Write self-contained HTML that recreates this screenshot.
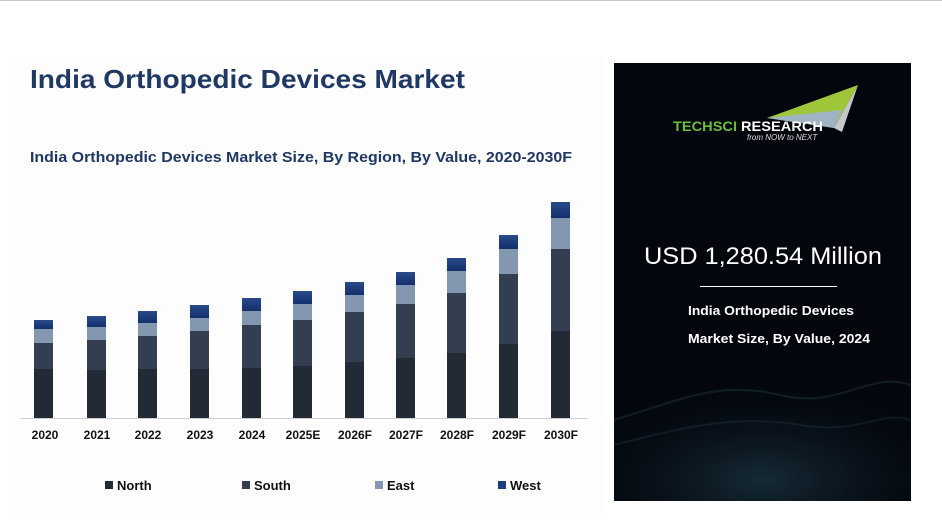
<!DOCTYPE html>
<html><head><meta charset="utf-8"><style>
html,body{margin:0;padding:0;background:#fff;}
svg{display:block;font-family:"Liberation Sans",sans-serif;}
</style></head><body>
<svg width="942" height="528" viewBox="0 0 942 528" xmlns="http://www.w3.org/2000/svg">
<defs>
<linearGradient id="wg" x1="0" y1="0" x2="0" y2="1"><stop offset="0" stop-color="#2b4a8a"/><stop offset="1" stop-color="#12306b"/></linearGradient>
<radialGradient id="wave" cx="0.5" cy="0.85" r="0.7"><stop offset="0" stop-color="#1d3a45" stop-opacity="0.7"/><stop offset="1" stop-color="#0a1420" stop-opacity="0"/></radialGradient>
</defs>
<rect width="942" height="528" fill="#fff"/>
<line x1="0" y1="0.5" x2="942" y2="0.5" stroke="#c8c8c8"/>
<rect x="15" y="57" width="590" height="460" fill="#fdfdfd"/>
<text x="30" y="88" font-size="26" font-weight="bold" fill="#1f3864" textLength="435" lengthAdjust="spacingAndGlyphs">India Orthopedic Devices Market</text>
<text x="30" y="162" font-size="15" font-weight="bold" fill="#1f3864" textLength="542" lengthAdjust="spacingAndGlyphs">India Orthopedic Devices Market Size, By Region, By Value, 2020-2030F</text>
<line x1="20" y1="418.5" x2="588" y2="418.5" stroke="#d0d0d0"/>
<g font-size="12" font-weight="bold" fill="#111" text-anchor="middle">
<text x="45" y="439">2020</text><text x="97" y="439">2021</text><text x="148" y="439">2022</text><text x="200" y="439">2023</text><text x="252" y="439">2024</text><text x="303" y="439">2025E</text><text x="355" y="439">2026F</text><text x="406" y="439">2027F</text><text x="457" y="439">2028F</text><text x="509" y="439">2029F</text><text x="561" y="439">2030F</text>
</g>
<g font-size="13" font-weight="bold" fill="#111">
<rect x="105" y="481" width="8" height="8" fill="#222a35"/><text x="117" y="490">North</text>
<rect x="242" y="481" width="8" height="8" fill="#333f50"/><text x="254" y="490">South</text>
<rect x="375" y="481" width="8" height="8" fill="#8497b0"/><text x="387" y="490">East</text>
<rect x="498" y="481" width="8" height="8" fill="#1f3c7e"/><text x="510" y="490">West</text>
</g>
<rect x="614" y="63" width="297" height="438" fill="#03060d"/>
<rect x="614" y="360" width="297" height="141" fill="url(#wave)"/>
<path d="M614 420 C 680 400, 720 380, 780 395 S 870 370, 911 385" stroke="#2a4a50" stroke-width="2" fill="none" opacity="0.35"/>
<path d="M614 445 C 690 425, 740 415, 800 425 S 880 410, 911 420" stroke="#213c44" stroke-width="2" fill="none" opacity="0.35"/>
<polygon points="767,118 858,85 834,128" fill="#9fc63b"/>
<polygon points="767,118 842,110 834,128" fill="#9fb3c4"/>
<polygon points="834,128 858,85 842,132" fill="#c5c9cc"/>
<text x="673" y="131" font-size="14" font-weight="bold" fill="#6abf3a" textLength="64" lengthAdjust="spacingAndGlyphs">TECHSCI</text>
<text x="741" y="131" font-size="14" font-weight="bold" fill="#fff" textLength="82" lengthAdjust="spacingAndGlyphs">RESEARCH</text>
<text x="747" y="140" font-size="8" font-style="italic" fill="#ddd">from NOW to NEXT</text>
<text x="763" y="264" font-size="24" fill="#fff" text-anchor="middle" textLength="238" lengthAdjust="spacingAndGlyphs">USD 1,280.54 Million</text>
<line x1="700" y1="286.5" x2="837" y2="286.5" stroke="#fff"/>
<text x="688" y="315" font-size="13" font-weight="bold" fill="#fff" textLength="166" lengthAdjust="spacingAndGlyphs">India Orthopedic Devices</text>
<text x="688" y="343" font-size="13" font-weight="bold" fill="#fff" textLength="182" lengthAdjust="spacingAndGlyphs">Market Size, By Value, 2024</text>
<g>
<rect x="34" y="369" width="19" height="49" fill="#222a35"/><rect x="34" y="343" width="19" height="26" fill="#333f50"/><rect x="34" y="329" width="19" height="14" fill="#8497b0"/><rect x="34" y="320" width="19" height="9" fill="url(#wg)"/>
<rect x="87" y="370" width="19" height="48" fill="#222a35"/><rect x="87" y="340" width="19" height="30" fill="#333f50"/><rect x="87" y="327" width="19" height="13" fill="#8497b0"/><rect x="87" y="316" width="19" height="11" fill="url(#wg)"/>
<rect x="138" y="369" width="19" height="49" fill="#222a35"/><rect x="138" y="336" width="19" height="33" fill="#333f50"/><rect x="138" y="323" width="19" height="13" fill="#8497b0"/><rect x="138" y="311" width="19" height="12" fill="url(#wg)"/>
<rect x="190" y="369" width="19" height="49" fill="#222a35"/><rect x="190" y="331" width="19" height="38" fill="#333f50"/><rect x="190" y="318" width="19" height="13" fill="#8497b0"/><rect x="190" y="305" width="19" height="13" fill="url(#wg)"/>
<rect x="242" y="368" width="19" height="50" fill="#222a35"/><rect x="242" y="325" width="19" height="43" fill="#333f50"/><rect x="242" y="311" width="19" height="14" fill="#8497b0"/><rect x="242" y="298" width="19" height="13" fill="url(#wg)"/>
<rect x="293" y="366" width="19" height="52" fill="#222a35"/><rect x="293" y="320" width="19" height="46" fill="#333f50"/><rect x="293" y="304" width="19" height="16" fill="#8497b0"/><rect x="293" y="291" width="19" height="13" fill="url(#wg)"/>
<rect x="345" y="362" width="19" height="56" fill="#222a35"/><rect x="345" y="312" width="19" height="50" fill="#333f50"/><rect x="345" y="295" width="19" height="17" fill="#8497b0"/><rect x="345" y="282" width="19" height="13" fill="url(#wg)"/>
<rect x="396" y="358" width="19" height="60" fill="#222a35"/><rect x="396" y="304" width="19" height="54" fill="#333f50"/><rect x="396" y="285" width="19" height="19" fill="#8497b0"/><rect x="396" y="272" width="19" height="13" fill="url(#wg)"/>
<rect x="447" y="353" width="19" height="65" fill="#222a35"/><rect x="447" y="293" width="19" height="60" fill="#333f50"/><rect x="447" y="271" width="19" height="22" fill="#8497b0"/><rect x="447" y="258" width="19" height="13" fill="url(#wg)"/>
<rect x="499" y="344" width="19" height="74" fill="#222a35"/><rect x="499" y="274" width="19" height="70" fill="#333f50"/><rect x="499" y="249" width="19" height="25" fill="#8497b0"/><rect x="499" y="235" width="19" height="14" fill="url(#wg)"/>
<rect x="551" y="331" width="19" height="87" fill="#222a35"/><rect x="551" y="249" width="19" height="82" fill="#333f50"/><rect x="551" y="218" width="19" height="31" fill="#8497b0"/><rect x="551" y="202" width="19" height="16" fill="url(#wg)"/>
</g>
</svg>
</body></html>
